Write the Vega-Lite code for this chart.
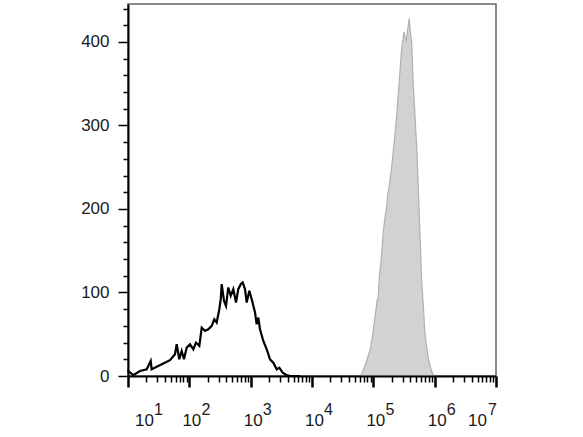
{
  "$schema": "https://vega.github.io/schema/vega-lite/v6.json",
  "width": 368,
  "height": 372,
  "autosize": {"type": "none"},
  "padding": {"left": 128, "top": 4, "right": 87, "bottom": 61},
  "background": "white",
  "config": {"view": {"stroke": "#666666", "strokeWidth": 1.5}},
  "datasets": {
    "stained": [
      {"log10_intensity": 1.0, "count": 0},
      {"log10_intensity": 4.78, "count": 0},
      {"log10_intensity": 4.81, "count": 2},
      {"log10_intensity": 4.86, "count": 12},
      {"log10_intensity": 4.9, "count": 20},
      {"log10_intensity": 4.95, "count": 32},
      {"log10_intensity": 4.99, "count": 50},
      {"log10_intensity": 5.03, "count": 72},
      {"log10_intensity": 5.065, "count": 92},
      {"log10_intensity": 5.075, "count": 90},
      {"log10_intensity": 5.1, "count": 120},
      {"log10_intensity": 5.13, "count": 140},
      {"log10_intensity": 5.16, "count": 171},
      {"log10_intensity": 5.19, "count": 190},
      {"log10_intensity": 5.22, "count": 203},
      {"log10_intensity": 5.23, "count": 215},
      {"log10_intensity": 5.26, "count": 228},
      {"log10_intensity": 5.3, "count": 251},
      {"log10_intensity": 5.34, "count": 280},
      {"log10_intensity": 5.38, "count": 311},
      {"log10_intensity": 5.42, "count": 351},
      {"log10_intensity": 5.46, "count": 390},
      {"log10_intensity": 5.5, "count": 412},
      {"log10_intensity": 5.52, "count": 405},
      {"log10_intensity": 5.54, "count": 402},
      {"log10_intensity": 5.56, "count": 415},
      {"log10_intensity": 5.585, "count": 428},
      {"log10_intensity": 5.6, "count": 415},
      {"log10_intensity": 5.625, "count": 399},
      {"log10_intensity": 5.65, "count": 351},
      {"log10_intensity": 5.68, "count": 310},
      {"log10_intensity": 5.71, "count": 271},
      {"log10_intensity": 5.75, "count": 191},
      {"log10_intensity": 5.79, "count": 112},
      {"log10_intensity": 5.82, "count": 78},
      {"log10_intensity": 5.84, "count": 52},
      {"log10_intensity": 5.87, "count": 34},
      {"log10_intensity": 5.9, "count": 20},
      {"log10_intensity": 5.94, "count": 8},
      {"log10_intensity": 5.97, "count": 2},
      {"log10_intensity": 6.0, "count": 0},
      {"log10_intensity": 7.0, "count": 0}
    ],
    "control": [
      {"log10_intensity": 1.0, "count": 5},
      {"log10_intensity": 1.005, "count": 6},
      {"log10_intensity": 1.086, "count": 1},
      {"log10_intensity": 1.196, "count": 6},
      {"log10_intensity": 1.305, "count": 8},
      {"log10_intensity": 1.37, "count": 18},
      {"log10_intensity": 1.386, "count": 8},
      {"log10_intensity": 1.468, "count": 11},
      {"log10_intensity": 1.576, "count": 15},
      {"log10_intensity": 1.685, "count": 19},
      {"log10_intensity": 1.766, "count": 26},
      {"log10_intensity": 1.794, "count": 38},
      {"log10_intensity": 1.836, "count": 20},
      {"log10_intensity": 1.875, "count": 30},
      {"log10_intensity": 1.913, "count": 20},
      {"log10_intensity": 1.957, "count": 34},
      {"log10_intensity": 2.011, "count": 38},
      {"log10_intensity": 2.065, "count": 32},
      {"log10_intensity": 2.109, "count": 40},
      {"log10_intensity": 2.163, "count": 36},
      {"log10_intensity": 2.202, "count": 58},
      {"log10_intensity": 2.256, "count": 54},
      {"log10_intensity": 2.309, "count": 56},
      {"log10_intensity": 2.365, "count": 60},
      {"log10_intensity": 2.407, "count": 68},
      {"log10_intensity": 2.446, "count": 64},
      {"log10_intensity": 2.489, "count": 80},
      {"log10_intensity": 2.512, "count": 92},
      {"log10_intensity": 2.528, "count": 110},
      {"log10_intensity": 2.565, "count": 90},
      {"log10_intensity": 2.598, "count": 84},
      {"log10_intensity": 2.635, "count": 106},
      {"log10_intensity": 2.675, "count": 96},
      {"log10_intensity": 2.717, "count": 104},
      {"log10_intensity": 2.761, "count": 88},
      {"log10_intensity": 2.798, "count": 104},
      {"log10_intensity": 2.838, "count": 110},
      {"log10_intensity": 2.87, "count": 112},
      {"log10_intensity": 2.908, "count": 104},
      {"log10_intensity": 2.935, "count": 88},
      {"log10_intensity": 2.978, "count": 102},
      {"log10_intensity": 3.017, "count": 92},
      {"log10_intensity": 3.071, "count": 76},
      {"log10_intensity": 3.098, "count": 62},
      {"log10_intensity": 3.125, "count": 70},
      {"log10_intensity": 3.152, "count": 56},
      {"log10_intensity": 3.206, "count": 42},
      {"log10_intensity": 3.262, "count": 32},
      {"log10_intensity": 3.315, "count": 20},
      {"log10_intensity": 3.369, "count": 16},
      {"log10_intensity": 3.425, "count": 8},
      {"log10_intensity": 3.467, "count": 10},
      {"log10_intensity": 3.522, "count": 4},
      {"log10_intensity": 3.588, "count": 1},
      {"log10_intensity": 3.641, "count": 0},
      {"log10_intensity": 3.8, "count": 0}
    ]
  },
  "layer": [
    {
      "data": {"name": "stained"},
      "mark": {"type": "area", "color": "#d2d2d2", "stroke": "#b0b0b0", "strokeWidth": 1.2, "interpolate": "linear"},
      "encoding": {
        "x": {
          "field": "log10_intensity",
          "type": "quantitative",
          "scale": {"domain": [1, 7], "nice": false, "zero": false},
          "axis": {
            "values": [1, 2, 3, 4, 5, 6, 7],
            "ticks": false,
            "domain": true,
            "domainColor": "#000000",
            "domainWidth": 2,
            "grid": false,
            "title": null,
            "labelExpr": "'10'",
            "labelFont": "Liberation Sans",
            "labelFontSize": 17,
            "labelColor": "#1a1a1a",
            "labelBaseline": "top",
            "labelPadding": 36,
            "labelFlush": false,
            "labelOverlap": false,
            "labelBound": false,
            "labelOffset": {"condition": [{"test": "datum.value == 1", "value": 16}, {"test": "datum.value == 7", "value": -19}], "value": 2},
            "zindex": 1
          }
        },
        "y": {
          "field": "count",
          "type": "quantitative",
          "scale": {"domain": [0, 445.5], "nice": false, "zero": true},
          "axis": {
            "values": [0, 20, 40, 60, 80, 100, 120, 140, 160, 180, 200, 220, 240, 260, 280, 300, 320, 340, 360, 380, 400, 420, 440],
            "grid": false,
            "title": null,
            "domainColor": "#000000",
            "domainWidth": 2,
            "tickColor": "#000000",
            "tickWidth": 1.5,
            "tickSize": {"condition": {"test": "datum.value % 100 == 0", "value": 10}, "value": 5},
            "labelExpr": "datum.value % 100 == 0 ? datum.label : ''",
            "labelFont": "Liberation Sans",
            "labelFontSize": 17,
            "labelColor": "#1a1a1a",
            "labelPadding": 9,
            "labelOverlap": false,
            "labelBound": false,
            "zindex": 1
          }
        }
      }
    },
    {
      "data": {"name": "control"},
      "mark": {"type": "line", "color": "#000000", "strokeWidth": 2.2, "interpolate": "linear"},
      "encoding": {
        "x": {
          "field": "log10_intensity",
          "type": "quantitative",
          "axis": {
            "orient": "bottom",
            "values": [1, 1.301, 1.477, 1.602, 1.699, 1.778, 1.845, 1.903, 1.954, 2, 2.301, 2.477, 2.602, 2.699, 2.778, 2.845, 2.903, 2.954, 3, 3.301, 3.477, 3.602, 3.699, 3.778, 3.845, 3.903, 3.954, 4, 4.301, 4.477, 4.602, 4.699, 4.778, 4.845, 4.903, 4.954, 5, 5.301, 5.477, 5.602, 5.699, 5.778, 5.845, 5.903, 5.954, 6, 6.301, 6.477, 6.602, 6.699, 6.778, 6.845, 6.903, 6.954, 7],
            "domain": false,
            "grid": false,
            "title": null,
            "tickColor": "#000000",
            "tickSize": {"condition": {"test": "datum.value == round(datum.value)", "value": 11}, "value": 6},
            "tickWidth": {"condition": {"test": "datum.value == round(datum.value)", "value": 2.5}, "value": 1.5},
            "labelExpr": "datum.value == round(datum.value) ? format(datum.value, 'd') : ''",
            "labelFont": "Liberation Sans",
            "labelFontSize": 16,
            "labelColor": "#1a1a1a",
            "labelBaseline": "top",
            "labelPadding": 14,
            "labelFlush": false,
            "labelOverlap": false,
            "labelBound": false,
            "labelOffset": {"condition": [{"test": "datum.value == 1", "value": 30}, {"test": "datum.value == 7", "value": -4}], "value": 16},
            "zindex": 1
          }
        },
        "y": {"field": "count", "type": "quantitative", "axis": null}
      }
    }
  ],
  "resolve": {"axis": {"x": "independent", "y": "independent"}}
}
